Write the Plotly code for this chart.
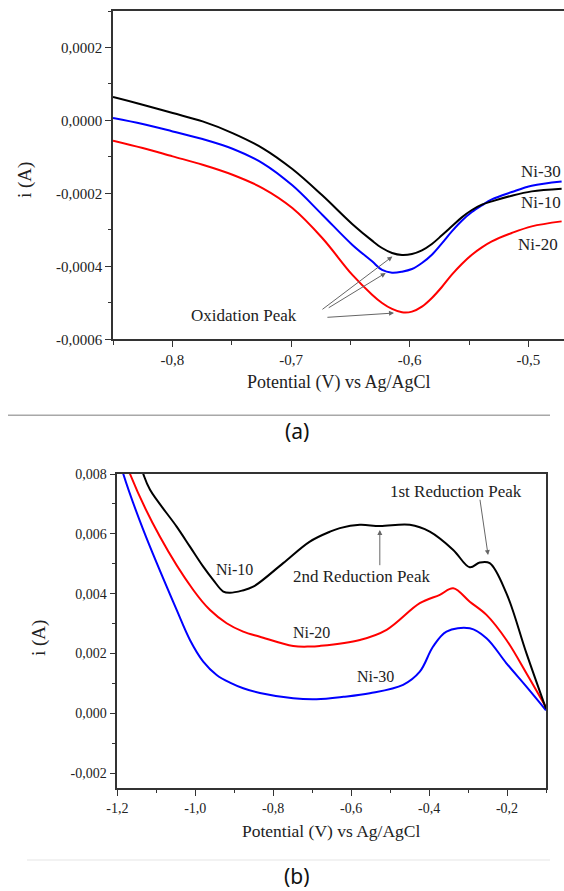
import plotly.graph_objects as go

# ---------------- Panel (a): oxidation ----------------
a_x = [-0.85, -0.825, -0.7997, -0.7745, -0.7493, -0.7241, -0.6989, -0.6737, -0.6485, -0.6317, -0.6233,
       -0.6149, -0.6065, -0.5981, -0.5897, -0.5813, -0.5729, -0.5645, -0.5561, -0.5476, -0.5392, -0.5308,
       -0.5140, -0.4972, -0.4720]
a_ni10_y = [6.40e-5, 4.30e-5, 2.02e-5, -2.6e-6, -3.46e-5, -7.57e-5, -1.333e-4, -2.054e-4, -2.839e-4, -3.296e-4,
            -3.497e-4, -3.634e-4, -3.689e-4, -3.661e-4, -3.561e-4, -3.387e-4, -3.150e-4, -2.904e-4, -2.657e-4,
            -2.456e-4, -2.310e-4, -2.219e-4, -2.063e-4, -1.945e-4, -1.871e-4]
a_ni30_y = [6.5e-6, -9.9e-6, -3.01e-5, -5.10e-5, -7.75e-5, -1.168e-4, -1.780e-4, -2.584e-4, -3.406e-4, -3.863e-4,
            -4.100e-4, -4.173e-4, -4.146e-4, -4.073e-4, -3.908e-4, -3.680e-4, -3.369e-4, -3.040e-4, -2.748e-4,
            -2.511e-4, -2.328e-4, -2.164e-4, -1.963e-4, -1.789e-4, -1.671e-4]
a_ni20_y = [-5.56e-5, -7.57e-5, -9.86e-5, -1.214e-4, -1.488e-4, -1.853e-4, -2.401e-4, -3.223e-4, -4.228e-4, -4.776e-4,
            -5.004e-4, -5.168e-4, -5.260e-4, -5.242e-4, -5.105e-4, -4.867e-4, -4.566e-4, -4.228e-4, -3.935e-4,
            -3.680e-4, -3.479e-4, -3.315e-4, -3.086e-4, -2.904e-4, -2.767e-4]

a_xtick_vals = [-0.8, -0.7, -0.6, -0.5]
a_xtick_text = ["-0,8", "-0,7", "-0,6", "-0,5"]
a_ytick_vals = [0.0002, 0.0, -0.0002, -0.0004, -0.0006]
a_ytick_text = ["0,0002", "0,0000", "-0,0002", "-0,0004", "-0,0006"]

# ---------------- Panel (b): reduction ----------------
b_ni10_x = [-1.145, -1.1333, -1.116, -1.0477, -1.0136, -0.9795, -0.954, -0.928, -0.911, -0.88, -0.8513, -0.7744, -0.706, -0.6546, -0.629, -0.5777, -0.5264, -0.4495, -0.3982, -0.338, -0.2956, -0.27, -0.2444, -0.2015, -0.1503, -0.10]
b_ni10_y = [0.0085, 0.0080, 0.00747, 0.00624, 0.00557, 0.0049, 0.00446, 0.00407, 0.00403, 0.0041, 0.00423, 0.00502, 0.00574, 0.00607, 0.00619, 0.0063, 0.00626, 0.0063, 0.00607, 0.00546, 0.00488, 0.00504, 0.00502, 0.00401, 0.00201, 0.00015]

b_ni20_x = [-1.18, -1.1674, -1.0905, -1.005, -0.962, -0.9195, -0.877, -0.8341, -0.7487, -0.706, -0.6803, -0.5777, -0.509, -0.4238, -0.3725, -0.338, -0.2956, -0.2527, -0.2015, -0.1503, -0.10]
b_ni20_y = [0.0085, 0.008, 0.0059, 0.00412, 0.00345, 0.00301, 0.00273, 0.00256, 0.00225, 0.00223, 0.00225, 0.00245, 0.00279, 0.00368, 0.00396, 0.00418, 0.00373, 0.00329, 0.00245, 0.00134, 0.0002]

b_ni30_x = [-1.195, -1.1846, -1.1333, -1.0477, -1.0136, -0.9795, -0.9451, -0.9110, -0.8769, -0.8341, -0.7487, -0.6889, -0.62, -0.552, -0.4667, -0.4238, -0.3897, -0.3554, -0.2956, -0.2527, -0.2015, -0.1503, -0.10]
b_ni30_y = [0.0085, 0.008, 0.00613, 0.003454, 0.002451, 0.001726, 0.001281, 0.001023, 0.000836, 0.000679, 0.000502, 0.00047, 0.00055, 0.00067, 0.00095, 0.00139, 0.00223, 0.00273, 0.00284, 0.00251, 0.00167, 0.00089, 0.0001]

b_xtick_vals = [-1.2, -1.0, -0.8, -0.6, -0.4, -0.2]
b_xtick_text = ["-1,2", "-1,0", "-0,8", "-0,6", "-0,4", "-0,2"]
b_ytick_vals = [0.008, 0.006, 0.004, 0.002, 0.0, -0.002]
b_ytick_text = ["0,008", "0,006", "0,004", "0,002", "0,000", "-0,002"]

SERIF = "Liberation Serif, Times New Roman, serif"
W, H = 564, 891

fig = go.Figure()

def add_line(x, y, color, xa, ya):
    fig.add_trace(go.Scatter(x=x, y=y, mode="lines", xaxis=xa, yaxis=ya,
                             line=dict(color=color, width=2, shape="spline", smoothing=1.0),
                             showlegend=False, hoverinfo="skip"))

add_line(a_x, a_ni20_y, "#ff0000", "x", "y")
add_line(a_x, a_ni30_y, "#0000ff", "x", "y")
add_line(a_x, a_ni10_y, "#000000", "x", "y")

add_line(b_ni30_x, b_ni30_y, "#0000ff", "x2", "y2")
add_line(b_ni20_x, b_ni20_y, "#ff0000", "x2", "y2")
add_line(b_ni10_x, b_ni10_y, "#000000", "x2", "y2")

def px_x(p):
    return p / W

def px_y(p):
    return 1 - p / H

axis_common = dict(showgrid=False, zeroline=False, showline=True, linecolor="#333333", linewidth=1.5,
                   mirror=True, ticks="outside", ticklen=6, tickwidth=1.2, tickcolor="#333333",
                   tickmode="array")

fig.update_layout(
    width=W, height=H,
    margin=dict(l=0, r=0, t=0, b=0, autoexpand=False),
    paper_bgcolor="white", plot_bgcolor="white",
    font=dict(family=SERIF),
    xaxis=dict(axis_common, domain=[px_x(113), 1.0], range=[-0.85, -0.47], anchor="y",
               tickvals=a_xtick_vals, ticktext=a_xtick_text,
               tickfont=dict(family=SERIF, size=15, color="#222"),
               minor=dict(tickmode="linear", tick0=0, dtick=0.05, ticks="outside", ticklen=3.5,
                          tickcolor="#333333", tickwidth=1.2)),
    yaxis=dict(axis_common, domain=[px_y(339.3), px_y(11)], range=[-0.0006, 0.0003], anchor="x",
               tickvals=a_ytick_vals, ticktext=a_ytick_text,
               tickfont=dict(family=SERIF, size=15, color="#222"),
               minor=dict(tickmode="linear", tick0=0, dtick=0.0001, ticks="outside", ticklen=3.5,
                          tickcolor="#333333", tickwidth=1.2)),
    xaxis2=dict(axis_common, domain=[px_x(117.3), px_x(546)], range=[-1.2, -0.1], anchor="y2",
                tickvals=b_xtick_vals, ticktext=b_xtick_text,
                tickfont=dict(family=SERIF, size=14, color="#222"),
                minor=dict(tickmode="linear", tick0=0, dtick=0.1, ticks="outside", ticklen=3.5,
                           tickcolor="#333333", tickwidth=1.2)),
    yaxis2=dict(axis_common, domain=[px_y(788), px_y(474)], range=[-0.0025, 0.008], anchor="x2",
                tickvals=b_ytick_vals, ticktext=b_ytick_text,
                tickfont=dict(family=SERIF, size=14, color="#222"),
                minor=dict(tickmode="linear", tick0=0, dtick=0.001, ticks="outside", ticklen=3.5,
                           tickcolor="#333333", tickwidth=1.2)),
)

ann = []
def text_paper(t, x, y, size, rot=0, family=SERIF, color="#222", xanchor="center"):
    ann.append(dict(text=t, x=px_x(x), y=px_y(y), xref="paper", yref="paper", showarrow=False,
                    font=dict(family=family, size=size, color=color), textangle=rot,
                    xanchor=xanchor, yanchor="middle"))

def text_data(t, x, y, xr, yr, size, xanchor="center"):
    ann.append(dict(text=t, x=x, y=y, xref=xr, yref=yr, showarrow=False,
                    font=dict(family=SERIF, size=size, color="#222"),
                    xanchor=xanchor, yanchor="middle"))

def arrow(hx, hy, tx, ty, xr, yr):
    ann.append(dict(text="", x=hx, y=hy, ax=tx, ay=ty, xref=xr, yref=yr, axref=xr, ayref=yr,
                    showarrow=True, arrowhead=2, arrowsize=1, arrowwidth=1, arrowcolor="#666666"))

# Axis titles
text_paper("Potential (V) vs Ag/AgCl", 339, 383, 18)
text_paper("i (A)", 25, 180, 19, rot=-90)
text_paper("Potential (V) vs Ag/AgCl", 331.5, 831, 17.5)
text_paper("i (A)", 39, 638, 19, rot=-90)

# Panel labels
text_paper("(a)", 297, 431, 21, family="Noto Sans", color="#111")
text_paper("(b)", 297, 876, 21, family="Noto Sans", color="#111")

# Panel (a) annotations
text_data("Oxidation Peak", -0.7393, -5.36e-4, "x", "y", 17)
arrow(-0.6146, -3.73e-4, -0.6748, -5.21e-4, "x", "y")
arrow(-0.6202, -4.18e-4, -0.6695, -5.16e-4, "x", "y")
arrow(-0.6132, -5.28e-4, -0.6706, -5.40e-4, "x", "y")
ann.append(dict(text="Ni-30", x=px_x(562.5), y=-1.41e-4, xref="paper", yref="y", showarrow=False,
                font=dict(family=SERIF, size=17, color="#222"), xanchor="right", yanchor="middle"))
ann.append(dict(text="Ni-10", x=px_x(562.5), y=-2.25e-4, xref="paper", yref="y", showarrow=False,
                font=dict(family=SERIF, size=17, color="#222"), xanchor="right", yanchor="middle"))
ann.append(dict(text="Ni-20", x=px_x(560), y=-3.41e-4, xref="paper", yref="y", showarrow=False,
                font=dict(family=SERIF, size=17, color="#222"), xanchor="right", yanchor="middle"))

# Panel (b) annotations
text_data("Ni-10", -0.8995, 0.00479, "x2", "y2", 16)
text_data("Ni-20", -0.7008, 0.00269, "x2", "y2", 16)
text_data("Ni-30", -0.538, 0.00122, "x2", "y2", 16)
text_data("2nd Reduction Peak", -0.5726, 0.00457, "x2", "y2", 17)
arrow(-0.5264, 0.00613, -0.5264, 0.0049, "x2", "y2")
text_data("1st Reduction Peak", -0.3315, 0.00743, "x2", "y2", 17)
arrow(-0.2487, 0.00529, -0.2700, 0.00719, "x2", "y2")

fig.update_layout(annotations=ann)

# separator lines
fig.add_shape(type="line", xref="paper", yref="paper", x0=px_x(8), x1=px_x(550), y0=px_y(415.3), y1=px_y(415.3),
              line=dict(color="#a8a8a8", width=1.5))
fig.add_shape(type="line", xref="paper", yref="paper", x0=px_x(27), x1=px_x(550), y0=px_y(860), y1=px_y(860),
              line=dict(color="#e6e6e6", width=1.2))

fig.write_html("out.html")
